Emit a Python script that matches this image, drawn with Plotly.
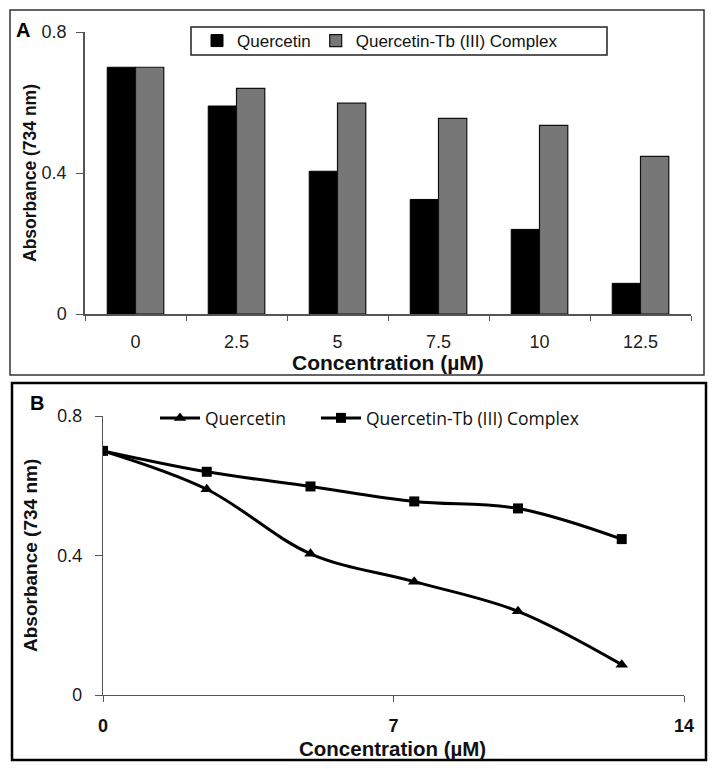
import plotly.graph_objects as go

# ---- data ----
conc_labels = ["0", "2.5", "5", "7.5", "10", "12.5"]
conc_values = [0, 2.5, 5, 7.5, 10, 12.5]
quercetin = [0.70, 0.59, 0.405, 0.325, 0.24, 0.087]
complex_tb = [0.70, 0.64, 0.598, 0.555, 0.535, 0.447]
y_ticks = [0, 0.4, 0.8]
y_tick_text = ["0", "0.4", "0.8"]
xB_ticks = [0, 7, 14]

W, H = 714, 769


def px(x):
    return x / W


def py(y):
    return 1 - y / H


fig = go.Figure()

# Panel A: bars
fig.add_trace(go.Bar(
    x=conc_labels, y=quercetin, name="Quercetin",
    marker=dict(color="#000000", line=dict(color="#000000", width=1)),
    xaxis="x", yaxis="y", legend="legend"))
fig.add_trace(go.Bar(
    x=conc_labels, y=complex_tb, name="Quercetin-Tb (III) Complex",
    marker=dict(color="#777777", line=dict(color="#111111", width=1.2)),
    xaxis="x", yaxis="y", legend="legend"))

# Panel B: lines
fig.add_trace(go.Scatter(
    x=conc_values, y=quercetin, name="Quercetin", mode="lines+markers",
    line=dict(color="#000000", width=3, shape="spline", smoothing=1),
    marker=dict(symbol="triangle-up", size=11, color="#000000"),
    xaxis="x2", yaxis="y2", legend="legend2"))
fig.add_trace(go.Scatter(
    x=conc_values, y=complex_tb, name="Quercetin-Tb (III) Complex", mode="lines+markers",
    line=dict(color="#000000", width=3, shape="spline", smoothing=1),
    marker=dict(symbol="square", size=10, color="#000000"),
    xaxis="x2", yaxis="y2", legend="legend3"))

arial = "Liberation Sans, Arial, sans-serif"
calib = "Open Sans, Noto Sans, sans-serif"
bold = dict(family=arial, color="#111111", weight="bold")
legB = dict(yanchor="middle", xanchor="left", orientation="h",
            bgcolor="rgba(0,0,0,0)", borderwidth=0, itemwidth=40,
            font=dict(family=calib, size=17.5, color="#111111"))

fig.update_layout(
    width=W, height=H, autosize=False,
    margin=dict(l=0, r=0, t=0, b=0, pad=0),
    paper_bgcolor="white", plot_bgcolor="white",
    barmode="group", bargap=0.44, bargroupgap=0,
    xaxis=dict(
        domain=[px(85), px(691)], anchor="y", type="category", automargin=False,
        showline=True, linecolor="#555555", linewidth=1.5,
        ticks="outside", ticklen=5, tickcolor="#555555", tickson="boundaries",
        showgrid=False, zeroline=False, ticklabelstandoff=11,
        tickfont=dict(family=arial, size=18, color="#222222"),
    ),
    yaxis=dict(
        domain=[py(314), py(32)], anchor="x", range=[0, 0.8], automargin=False,
        tickvals=y_ticks, ticktext=y_tick_text,
        showline=True, linecolor="#555555", linewidth=1.5,
        ticks="outside", ticklen=7, tickcolor="#555555",
        showgrid=False, zeroline=False, ticklabelstandoff=6,
        tickfont=dict(family=arial, size=18, color="#222222"),
    ),
    xaxis2=dict(
        domain=[px(103), px(684)], anchor="y2", range=[0, 14], automargin=False,
        tickvals=xB_ticks,
        showline=True, linecolor="#555555", linewidth=1.2,
        ticks="outside", ticklen=6, tickcolor="#555555",
        showgrid=False, zeroline=False, ticklabelstandoff=8,
        tickfont=dict(family=arial, size=18, color="#111111", weight="bold"),
    ),
    yaxis2=dict(
        domain=[py(695), py(416)], anchor="x2", range=[0, 0.8], automargin=False,
        tickvals=y_ticks, ticktext=y_tick_text,
        showline=True, linecolor="#555555", linewidth=1.2,
        ticks="outside", ticklen=7, tickcolor="#555555",
        showgrid=False, zeroline=False, ticklabelstandoff=9,
        tickfont=dict(family=calib, size=18, color="#111111"),
    ),
    legend=dict(
        x=px(197), y=py(41), xanchor="left", yanchor="middle",
        orientation="h", bgcolor="rgba(0,0,0,0)", borderwidth=0,
        font=dict(family=arial, size=17, color="#111111"),
        itemwidth=30, traceorder="normal",
    ),
    legend2=dict(x=px(155), y=py(418), **legB),
    legend3=dict(x=px(316), y=py(418), **legB),
    shapes=[
        dict(type="rect", xref="paper", yref="paper",
             x0=px(10), x1=px(704), y0=py(375), y1=py(10),
             line=dict(color="#333333", width=1.5), fillcolor="rgba(0,0,0,0)"),
        dict(type="rect", xref="paper", yref="paper",
             x0=px(12), x1=px(706), y0=py(760), y1=py(383),
             line=dict(color="#000000", width=2.5), fillcolor="rgba(0,0,0,0)"),
        # legend frame of panel A
        dict(type="rect", xref="paper", yref="paper",
             x0=px(191), x1=px(607), y0=py(55), y1=py(27),
             line=dict(color="#222222", width=1.5), fillcolor="rgba(0,0,0,0)"),
    ],
    annotations=[
        dict(text="A", xref="paper", yref="paper", x=px(14), y=py(30),
             xanchor="left", yanchor="middle", showarrow=False,
             font=dict(family=arial, size=20, color="#000000", weight="bold")),
        dict(text="B", xref="paper", yref="paper", x=px(28), y=py(403),
             xanchor="left", yanchor="middle", showarrow=False,
             font=dict(family=arial, size=20, color="#000000", weight="bold")),
        # axis titles
        dict(text="Absorbance (734 nm)", xref="paper", yref="paper",
             x=px(30), y=py(173), xanchor="center", yanchor="middle",
             textangle=-90, showarrow=False, font=dict(size=17.5, **bold)),
        dict(text="Concentration (µM)", xref="paper", yref="paper",
             x=px(388), y=py(362), xanchor="center", yanchor="middle",
             showarrow=False, font=dict(size=21, **bold)),
        dict(text="Absorbance (734 nm)", xref="paper", yref="paper",
             x=px(30), y=py(556), xanchor="center", yanchor="middle",
             textangle=-90, showarrow=False, font=dict(size=19, **bold)),
        dict(text="Concentration (µM)", xref="paper", yref="paper",
             x=px(392), y=py(748), xanchor="center", yanchor="middle",
             showarrow=False, font=dict(size=20.5, **bold)),
    ],
)

fig.write_html(
    "out.html",
    config={"displayModeBar": False},
    post_script=("document.documentElement.style.margin='0';"
                 "document.body.style.margin='0';"
                 "document.body.style.overflow='hidden';"
                 "document.documentElement.style.overflow='hidden';"),
)
